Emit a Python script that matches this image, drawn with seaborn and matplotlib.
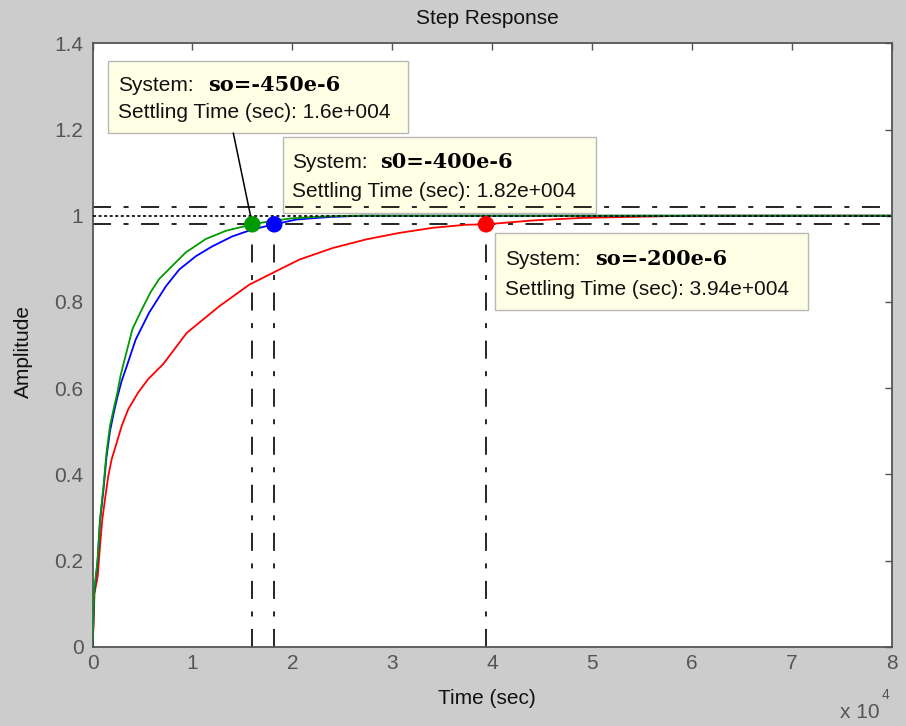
import matplotlib
matplotlib.use("Agg")
import matplotlib.pyplot as plt
from matplotlib.patches import Rectangle
import numpy as np
import pandas as pd
import seaborn as sns

# ---------------- data (time axis in units of 1e4 s) ----------------
t_green = [0, 0.005, 0.015, 0.05, 0.075, 0.11, 0.14, 0.175, 0.215, 0.25, 0.28, 0.32,
           0.40, 0.48, 0.58, 0.667, 0.80, 0.935, 1.135, 1.336, 1.6, 1.8, 2.0, 2.3,
           2.6, 3.0, 4.0, 5.0, 6.0, 7.0, 8.0]
y_green = [0, 0.03, 0.124, 0.2, 0.295, 0.372, 0.45, 0.512, 0.555, 0.59, 0.628, 0.665,
           0.737, 0.776, 0.822, 0.853, 0.884, 0.915, 0.946, 0.965, 0.98, 0.988, 0.994, 0.998,
           1.0, 1.0, 1.0, 1.0, 1.0, 1.0, 1.0]

t_blue = [0, 0.005, 0.015, 0.05, 0.075, 0.11, 0.14, 0.175, 0.215, 0.25, 0.29, 0.333,
          0.433, 0.567, 0.734, 0.868, 1.035, 1.2, 1.4, 1.6, 1.82, 2.04, 2.37, 2.7,
          3.0, 4.0, 5.0, 6.0, 7.0, 8.0]
y_blue = [0, 0.03, 0.12, 0.195, 0.29, 0.365, 0.44, 0.5, 0.545, 0.58, 0.615, 0.644,
          0.713, 0.775, 0.836, 0.875, 0.906, 0.929, 0.952, 0.968, 0.98, 0.991, 0.997, 1.0,
          1.0, 1.0, 1.0, 1.0, 1.0, 1.0]

t_red = [0, 0.01, 0.02, 0.052, 0.075, 0.098, 0.125, 0.158, 0.192, 0.242, 0.292, 0.358,
         0.458, 0.558, 0.709, 0.943, 1.27, 1.57, 1.87, 2.07, 2.405, 2.74, 3.07, 3.41,
         3.74, 3.94, 4.41, 4.91, 5.55, 6.0, 7.0, 8.0]
y_red = [0, 0.05, 0.124, 0.163, 0.233, 0.295, 0.342, 0.396, 0.435, 0.473, 0.512, 0.551,
         0.59, 0.621, 0.656, 0.728, 0.79, 0.84, 0.875, 0.898, 0.925, 0.945, 0.96, 0.972,
         0.979, 0.98, 0.989, 0.995, 0.998, 1.0, 1.0, 1.0]

systems = ["so=-450e-6", "s0=-400e-6", "so=-200e-6"]
colors = ["#009a00", "#0000ff", "#ff0000"]
settling_times = [1.6, 1.82, 3.94]
settling_text = ["1.6e+004", "1.82e+004", "3.94e+004"]
settle_level = 0.98
band_levels = [0.98, 1.02]
final_value = 1.0

x_ticks = [0, 1, 2, 3, 4, 5, 6, 7, 8]
x_tick_labels = ["0", "1", "2", "3", "4", "5", "6", "7", "8"]
y_ticks = [0, 0.2, 0.4, 0.6, 0.8, 1.0, 1.2, 1.4]
y_tick_labels = ["0", "0.2", "0.4", "0.6", "0.8", "1", "1.2", "1.4"]

# ---------------- style ----------------
sns.set_theme(style="white")
plt.rcParams["font.family"] = ["Liberation Sans", "DejaVu Sans"]
plt.rcParams["lines.scale_dashes"] = False

W, H = 906, 726
fig = plt.figure(figsize=(W / 100, H / 100), dpi=100, facecolor="#cccccc")
ax_l, ax_r, ax_t, ax_b = 92.5, 891.5, 43.3, 646.7
ax = fig.add_axes([ax_l / W, 1 - ax_b / H, (ax_r - ax_l) / W, (ax_b - ax_t) / H])
ax.set_facecolor("white")

def fx(px):
    return px / W

def fy(py):
    return 1 - py / H

df = pd.concat([
    pd.DataFrame({"time": t_green, "amp": y_green, "system": systems[0]}),
    pd.DataFrame({"time": t_blue, "amp": y_blue, "system": systems[1]}),
    pd.DataFrame({"time": t_red, "amp": y_red, "system": systems[2]}),
])
palette = dict(zip(systems, colors))

# reference lines (settling band and final value)
dashdot = (13, 9, 3.6, 9)
for lvl in band_levels:
    ax.axhline(lvl, color="black", lw=1.2, dashes=dashdot, zorder=2.5)
ax.axhline(final_value, color="black", lw=1.2, dashes=(2.2, 1.8), zorder=4)

sns.lineplot(data=df, x="time", y="amp", hue="system", palette=palette,
             hue_order=[systems[2], systems[1], systems[0]], estimator=None,
             sort=False, legend=False, lw=1.3, ax=ax, zorder=3)

# vertical settling-time lines
for ts in settling_times:
    ax.plot([ts, ts], [0, settle_level], color="black", lw=1.2, dashes=dashdot, zorder=2.5)

# markers
sns.scatterplot(x=settling_times, y=[settle_level] * 3, hue=systems, palette=palette,
                s=140, edgecolor="none", legend=False, ax=ax, zorder=6)

# annotation boxes (pixel geometry)
boxes = [
    (108.3, 61.0, 408.3, 132.7),
    (283.3, 137.3, 596.0, 213.0),
    (495.0, 233.3, 808.3, 310.0),
]
text_left = [118, 291.7, 505]
bold_left = [208.3, 380, 595]
base1 = [90.7, 168.3, 265]
base2 = [118.3, 196.7, 295]
for i, (x0, y0, x1, y1) in enumerate(boxes):
    r = Rectangle((fx(x0), fy(y1)), fx(x1) - fx(x0), fy(y0) - fy(y1),
                  transform=fig.transFigure, facecolor="#ffffe6", edgecolor="#b8b8b8",
                  lw=1.0, clip_on=False, zorder=1.5)
    ax.add_patch(r)
    ax.text(fx(text_left[i]), fy(base1[i]), "System:", transform=fig.transFigure,
            fontsize=15, color="#111111", va="baseline", ha="left", zorder=7)
    ax.text(fx(bold_left[i]), fy(base1[i]), systems[i], transform=fig.transFigure,
            fontsize=15, fontweight="bold", family=["DejaVu Serif"], color="black",
            va="baseline", ha="left", zorder=7)
    ax.text(fx(text_left[i]), fy(base2[i]), "Settling Time (sec): " + settling_text[i],
            transform=fig.transFigure, fontsize=15, color="#111111",
            va="baseline", ha="left", zorder=7)

# connector from first box to the green marker
ax.annotate("", xy=(settling_times[0], settle_level), xycoords="data",
            xytext=(fx(233.3), fy(133.0)), textcoords="figure fraction",
            arrowprops=dict(arrowstyle="-", color="black", lw=1.1, shrinkA=0, shrinkB=0),
            zorder=5)

# axes styling
ax.set_xlim(0, 8)
ax.set_ylim(0, 1.4)
ax.set_xticks(x_ticks)
ax.set_xticklabels(x_tick_labels)
ax.set_yticks(y_ticks)
ax.set_yticklabels(y_tick_labels)
ax.tick_params(axis="both", direction="in", length=5, width=1, color="#555555",
               labelcolor="#555555", labelsize=15, top=True, right=True)
ax.tick_params(axis="y", pad=6.5)
ax.tick_params(axis="x", pad=5)
for s in ax.spines.values():
    s.set_color("#555555")
    s.set_linewidth(1.3)

ax.set_xlabel("Time (sec)", fontsize=15, color="#111111")
ax.set_ylabel("Amplitude", fontsize=15, color="#111111")
ax.xaxis.set_label_coords((486.7 - ax_l) / (ax_r - ax_l), -(689 - ax_b) / (ax_b - ax_t))
ax.yaxis.set_label_coords((33.3 - ax_l) / (ax_r - ax_l), 0.49)
t = ax.set_title("Step Response", fontsize=15, color="#111111", pad=0,
                 y=(ax_b - 24.0) / (ax_b - ax_t), va="baseline")
t.set_x((487 - ax_l) / (ax_r - ax_l))

# exponent label
fig.text(fx(880), fy(718), "x 10", fontsize=15, color="#555555", ha="right", va="baseline")
fig.text(fx(882), fy(699), "4", fontsize=10, color="#555555", ha="left", va="baseline")

fig.savefig("out.png", dpi=100, facecolor=fig.get_facecolor())
